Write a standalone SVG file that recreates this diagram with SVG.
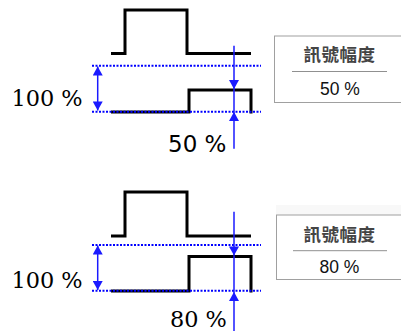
<svg xmlns="http://www.w3.org/2000/svg" width="401" height="331" viewBox="0 0 401 331">
<style>
.wave{fill:none;stroke:#000;stroke-width:3;stroke-linejoin:miter;stroke-linecap:butt}
.dot{fill:none;stroke:#0000ff;stroke-width:2;stroke-dasharray:2 1.5}
.arr{fill:none;stroke:#1a1aff;stroke-width:1.5}
.serif{font-family:"DejaVu Serif","Liberation Serif",serif;font-size:22.4px;fill:#000}
.sans{font-family:"DejaVu Sans","Liberation Sans",sans-serif;font-size:23px;fill:#000}
.box{fill:#fff;stroke:#a0a0a0;stroke-width:1}
.sep{stroke:#909090;stroke-width:1}
.title{font-family:"Noto Sans CJK TC","Noto Sans CJK SC",sans-serif;font-size:17.5px;font-weight:bold;fill:#444;text-anchor:middle;letter-spacing:0.5px}
.val{font-family:"Liberation Sans",Arial,sans-serif;font-size:17.5px;fill:#111;text-anchor:middle}
</style>
<defs>
<marker id="ah" markerUnits="userSpaceOnUse" markerWidth="10" markerHeight="10" refX="9" refY="5" orient="auto-start-reverse" viewBox="0 0 9 10">
<path d="M0,0 L9,5 L0,10 z" fill="#1a1aff"/>
</marker>
</defs>
<rect width="401" height="331" fill="#fff"/>

<g id="panel1">
<path class="wave" d="M111,53.5 H125 V10 H187 V53.5 H251"/>
<path class="wave" d="M111,112 H189 V90 H251 V113.5"/>
<line class="dot" x1="92" y1="65.7" x2="261" y2="65.7"/>
<line class="dot" x1="92" y1="111.7" x2="261" y2="111.7"/>
<text class="serif" x="11.5" y="106.3">100 %</text>
<text class="sans" x="168" y="152.3">50 %</text>
</g>

<g id="panel2">
<path class="wave" d="M111,236 H125 V192 H187 V236 H251"/>
<path class="wave" d="M111,291 H189 V256.5 H251 V292.5"/>
<line class="dot" x1="92" y1="245" x2="261" y2="245"/>
<line class="dot" x1="92" y1="290.7" x2="261" y2="290.7"/>
<text class="serif" x="11.5" y="288.3">100 %</text>
<text class="serif" x="170" y="327.3">80 %</text>
</g>

<g id="connectors">
<line class="arr" x1="97.7" y1="66.5" x2="97.7" y2="110.5" marker-start="url(#ah)" marker-end="url(#ah)"/>
<path class="arr" d="M234,45.7 V89" marker-end="url(#ah)"/>
<path class="arr" d="M234,89 V112"/>
<path class="arr" d="M234,148.7 V112" marker-end="url(#ah)"/>
<line class="arr" x1="97.7" y1="245.5" x2="97.7" y2="290" marker-start="url(#ah)" marker-end="url(#ah)"/>
<path class="arr" d="M234,211.7 V255.5" marker-end="url(#ah)"/>
<path class="arr" d="M234,255.5 V292"/>
<path class="arr" d="M234,331 V292" marker-end="url(#ah)"/>
</g>

<g id="box1">
<rect class="box" x="274.5" y="36" width="127" height="66.5"/>
<text class="title" x="339.5" y="61">訊號幅度</text>
<line class="sep" x1="292" y1="71.5" x2="387" y2="71.5"/>
<text class="val" x="340" y="95.3">50 %</text>
</g>

<g id="box2">
<rect x="276" y="205" width="125" height="10" fill="#f8f8f8"/>
<rect class="box" x="276.5" y="215" width="125" height="64.5"/>
<text class="title" x="339.5" y="241">訊號幅度</text>
<line class="sep" x1="293" y1="250.7" x2="387" y2="250.7"/>
<text class="val" x="339.5" y="273.3">80 %</text>
</g>
</svg>
